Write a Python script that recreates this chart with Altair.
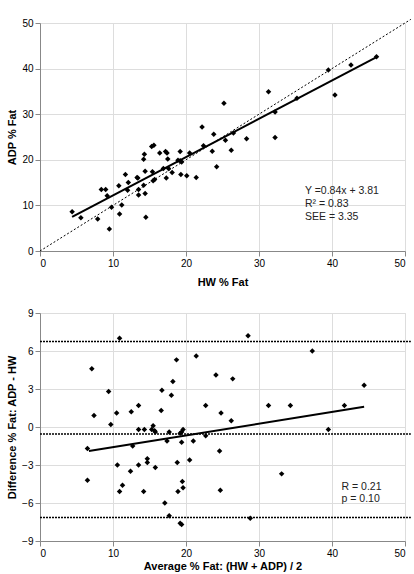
import altair as alt
import pandas as pd

# ---- Top panel data: HW % Fat vs ADP % Fat ----
hw_fat = [4.4, 5.6, 7.9, 8.4, 9.0, 9.2, 9.5, 9.8, 10.8, 10.9, 11.2, 11.7, 12.0, 12.1, 13.3,
          13.4, 13.5, 13.5, 14.2, 14.3, 14.2, 14.4, 14.4, 14.5, 15.3, 15.6, 15.4, 15.5, 15.7, 16.4,
          17.2, 17.4, 17.5, 16.9, 17.3, 17.6, 18.1, 18.9, 19.2, 19.2, 19.4, 19.3, 20.1, 20.5, 21.4,
          22.2, 22.4, 23.6, 23.8, 24.2, 25.2, 25.4, 26.2, 26.5, 28.3, 31.3, 32.2, 32.2, 35.2, 39.5,
          40.4, 42.6, 46.1]
adp_fat = [8.6, 7.3, 7.0, 13.5, 13.5, 12.1, 4.8, 9.6, 14.3, 8.1, 10.1, 16.8, 13.3, 15.0, 16.1,
           16.0, 12.3, 13.5, 20.1, 21.2, 14.4, 17.5, 12.6, 7.4, 22.9, 23.2, 17.4, 15.4, 15.7, 21.5,
           21.8, 21.5, 20.2, 18.1, 16.0, 18.1, 17.2, 19.9, 21.8, 19.8, 19.5, 16.8, 16.5, 21.5, 16.1,
           27.2, 23.1, 21.9, 25.6, 18.5, 32.4, 24.3, 22.1, 25.9, 24.6, 34.9, 30.5, 24.9, 33.5, 39.7,
           34.2, 40.8, 42.6]
reg_top_x = [4.4, 46.1]
reg_top_y = [7.5, 42.5]
identity_x = [0, 50.8]
identity_y = [0, 50.8]
top_text = ["Y =0.84x + 3.81", "R\u00b2 = 0.83", "SEE = 3.35"]
top_text_x = [36.3, 36.3, 36.3]
top_text_y = [13.2, 10.3, 7.5]
top_ticks = [0, 10, 20, 30, 40, 50]

# ---- Bottom panel data: Bland-Altman ----
avg_fat = [10.9, 28.5, 37.3, 7.1, 18.7, 21.4, 24.1, 26.4, 44.4, 9.4, 16.7, 18.2, 18.0, 13.5, 22.7,
           31.3, 34.3, 41.7, 7.4, 10.5, 12.5, 16.6, 24.8, 26.2, 9.7, 13.5, 14.3, 15.3, 15.5, 15.7,
           15.8, 17.7, 19.4, 19.2, 19.6, 39.5, 22.7, 17.4, 19.4, 21.0, 6.5, 12.7, 24.6, 10.6, 13.5,
           14.7, 14.7, 15.8, 18.8, 20.5, 12.4, 33.1, 6.5, 11.3, 19.5, 19.6, 10.9, 14.2, 18.9, 24.7,
           17.1, 17.7, 19.2, 19.4, 28.8]
diff_fat = [7.0, 7.2, 6.0, 4.6, 5.3, 5.6, 4.1, 3.8, 3.3, 2.8, 2.9, 3.6, 2.5, 1.7, 1.7,
            1.7, 1.7, 1.7, 0.9, 1.1, 1.2, 1.3, 1.1, 0.5, 0.2, -0.2, -0.2, -0.2, 0.1, -0.3,
            -0.4, -0.4, -0.4, -0.5, -0.2, -0.2, -0.7, -1.1, -1.2, -1.1, -1.7, -1.5, -1.9, -3.0, -3.0,
            -2.5, -2.8, -3.2, -2.8, -2.6, -3.5, -3.7, -4.2, -4.6, -4.3, -4.8, -5.1, -5.1, -5.1, -5.0,
            -6.0, -7.0, -7.6, -7.7, -7.2]
reg_bot_x = [6.7, 44.4]
reg_bot_y = [-1.9, 1.6]
limit_values = [6.75, -0.55, -7.15]
limit_x_start = 0
limit_x_end = 50.8
bot_text = ["R = 0.21", "p = 0.10"]
bot_text_x = [41.3, 41.3]
bot_text_y = [-4.75, -5.7]
bot_x_ticks = [0, 10, 20, 30, 40, 50]
bot_y_ticks = [-9, -6, -3, 0, 3, 6, 9]

FONT = "Liberation Sans"
W, H = 365, 228

# ---------- Top chart ----------
df_top = pd.DataFrame({"x": hw_fat, "y": adp_fat})
df_reg_top = pd.DataFrame({"x": reg_top_x, "y": reg_top_y})
df_id = pd.DataFrame({"x": identity_x, "y": identity_y})
df_top_text = pd.DataFrame({"x": top_text_x, "y": top_text_y, "t": top_text})

xs_top = alt.Scale(domain=[0, 50], nice=False)
ys_top = alt.Scale(domain=[0, 50], nice=False)
x_top = alt.X("x:Q", scale=xs_top, axis=alt.Axis(values=top_ticks, title="HW % Fat", titlePadding=8))
y_top = alt.Y("y:Q", scale=ys_top, axis=alt.Axis(values=top_ticks, title="ADP % Fat"))

top_identity = alt.Chart(df_id).mark_line(
    color="black", strokeWidth=1, strokeDash=[2, 2], clip=False
).encode(x=x_top, y=y_top)
top_reg = alt.Chart(df_reg_top).mark_line(color="black", strokeWidth=2).encode(x=x_top, y=y_top)
top_pts = alt.Chart(df_top).mark_point(
    shape="diamond", filled=True, size=30, color="black", opacity=1
).encode(x=x_top, y=y_top)
top_txt = alt.Chart(df_top_text).mark_text(
    align="left", baseline="middle", fontSize=10.5, font=FONT, color="#222"
).encode(x=x_top, y=y_top, text="t:N")

top = alt.layer(top_identity, top_reg, top_pts, top_txt).properties(width=W, height=H)

# ---------- Bottom chart ----------
df_bot = pd.DataFrame({"x": avg_fat, "y": diff_fat})
df_reg_bot = pd.DataFrame({"x": reg_bot_x, "y": reg_bot_y})
df_lim = pd.DataFrame({"y": limit_values, "x": [limit_x_start] * 3, "x2": [limit_x_end] * 3})
df_bot_text = pd.DataFrame({"x": bot_text_x, "y": bot_text_y, "t": bot_text})

xs_bot = alt.Scale(domain=[0, 50], nice=False)
ys_bot = alt.Scale(domain=[-9, 9], nice=False)
x_bot = alt.X("x:Q", scale=xs_bot,
              axis=alt.Axis(values=bot_x_ticks, title="Average % Fat: (HW + ADP) / 2",
                            titlePadding=2, labelPadding=2))
y_bot = alt.Y("y:Q", scale=ys_bot, axis=alt.Axis(values=bot_y_ticks, title="Difference % Fat: ADP - HW"))

bot_lim = alt.Chart(df_lim).mark_rule(
    color="black", strokeWidth=1.6, strokeDash=[2, 1], clip=False
).encode(x=x_bot, x2="x2:Q", y=y_bot)
bot_reg = alt.Chart(df_reg_bot).mark_line(color="black", strokeWidth=2).encode(x=x_bot, y=y_bot)
bot_pts = alt.Chart(df_bot).mark_point(
    shape="diamond", filled=True, size=30, color="black", opacity=1
).encode(x=x_bot, y=y_bot)
bot_txt = alt.Chart(df_bot_text).mark_text(
    align="left", baseline="middle", fontSize=10.5, font=FONT, color="#222"
).encode(x=x_bot, y=y_bot, text="t:N")

bottom = alt.layer(bot_lim, bot_reg, bot_pts, bot_txt).properties(width=W, height=H)

chart = alt.vconcat(top, bottom, spacing=19).properties(
    padding={"left": 6, "top": 16, "right": 0, "bottom": 0}
).configure_view(stroke=None).configure_axis(
    grid=False,
    domainColor="#808080",
    tickColor="#808080",
    tickSize=4,
    labelColor="#333",
    titleColor="#222",
    labelFont=FONT,
    titleFont=FONT,
    labelFontSize=10,
    titleFontSize=10,
    titleFontWeight="bold",
    labelPadding=3,
    titlePadding=9,
).configure(background="white")

chart.save("out.html", embed_options={"renderer": "svg", "actions": False})
